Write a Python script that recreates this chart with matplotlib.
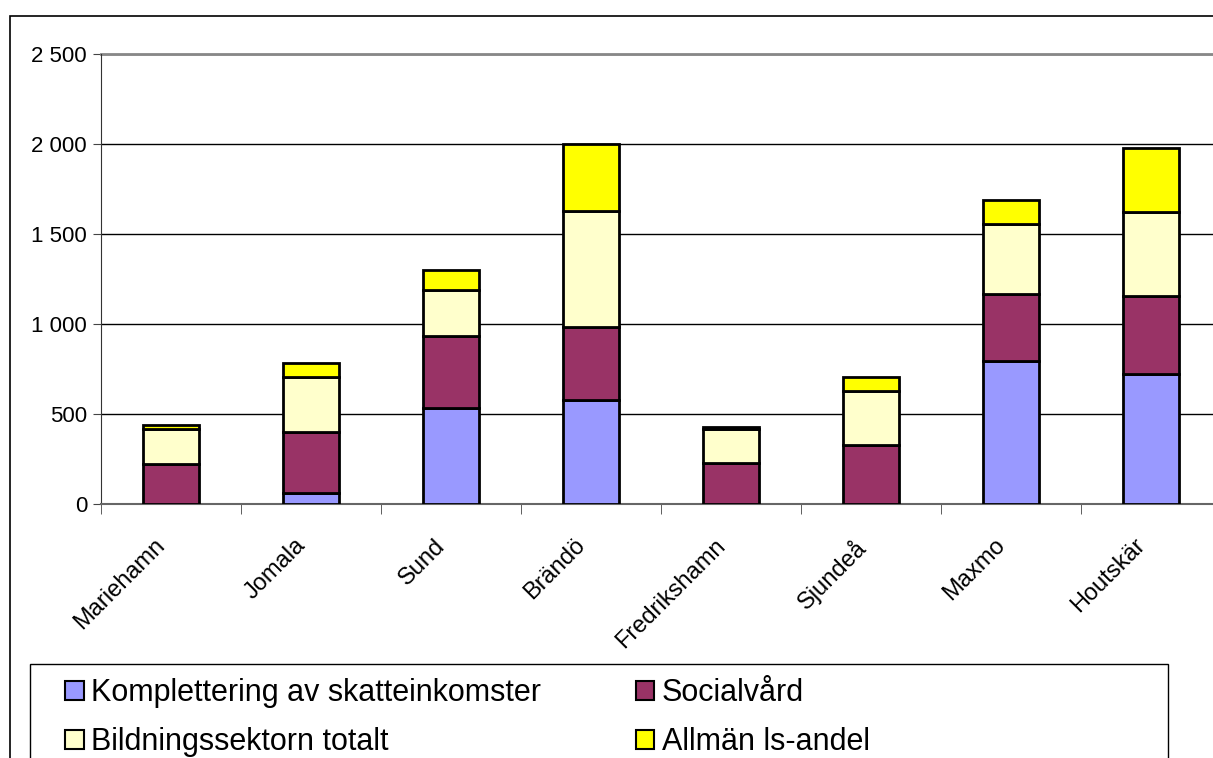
import matplotlib.pyplot as plt
import matplotlib.transforms as mtransforms
from matplotlib.patches import Rectangle, Patch
from matplotlib.ticker import FuncFormatter, FixedLocator
import numpy as np

plt.rcParams['font.family'] = ['Liberation Sans', 'DejaVu Sans']

kommuner = ["Mariehamn", "Jomala", "Sund", "Brändö", "Fredrikshamn", "Sjundeå", "Maxmo", "Houtskär"]
komplettering = [0, 60, 532, 576, 0, 0, 793, 720]
socialvard = [222, 338, 403, 409, 228, 330, 372, 434]
bildning = [195, 308, 254, 645, 189, 298, 391, 466]
allman = [22, 76, 111, 370, 11, 78, 131, 358]

serier = ["Komplettering av skatteinkomster", "Socialvård", "Bildningssektorn totalt", "Allmän ls-andel"]
farger = ["#9999FF", "#993366", "#FFFFCC", "#FFFF00"]

W, H = 1213, 758
fig = plt.figure(figsize=(W / 100, H / 100), dpi=100)

# outer chart frame (cut off at right and bottom like the original)
fig.patches.append(Rectangle((10 / W, -0.1), 1.2, 1 - 16 / H + 0.1, transform=fig.transFigure,
                             fill=False, edgecolor="black", lw=1.2))

ax = fig.add_axes([101 / W, 1 - 504 / H, 1120 / W, 450 / H])

x = np.arange(len(kommuner))
bottom = np.zeros(len(kommuner))
for vals, col in zip([komplettering, socialvard, bildning, allman], farger):
    ax.bar(x, vals, width=0.4, bottom=bottom, color=col, edgecolor="black", linewidth=2, zorder=3)
    bottom += np.array(vals)

ax.set_xlim(-0.5, len(kommuner) - 0.5)
ax.set_ylim(0, 2500)
ax.set_yticks([0, 500, 1000, 1500, 2000, 2500])
ax.yaxis.set_major_formatter(FuncFormatter(lambda v, p: f"{int(v):,}".replace(",", " ")))
ax.yaxis.grid(True, color="black", lw=1)
ax.set_axisbelow(True)

ax.set_xticks(x)
ax.set_xticklabels(kommuner, rotation=45, ha="right", rotation_mode="anchor", fontsize=17)
ax.tick_params(axis="x", which="major", length=0, pad=22)
shift = mtransforms.ScaledTranslation(-17 / 100, 0, fig.dpi_scale_trans)
for lab in ax.get_xticklabels():
    lab.set_transform(lab.get_transform() + shift)
ax.xaxis.set_minor_locator(FixedLocator(np.arange(len(kommuner) + 1) - 0.5))
ax.tick_params(axis="x", which="minor", length=7, color="#444444")
ax.tick_params(axis="y", labelsize=16, length=6, color="#444444", pad=4)

for s in ["top", "right"]:
    ax.spines[s].set_visible(False)
ax.spines["left"].set_color("#333333")
ax.spines["bottom"].set_color("#666666")
ax.spines["bottom"].set_linewidth(1.5)
ax.axhline(2500, color="#888888", lw=2, zorder=2, clip_on=False)

# legend box
fig.patches.append(Rectangle((30 / W, -0.1), 1138 / W, 1 - 664 / H + 0.1, transform=fig.transFigure,
                             fill=False, edgecolor="black", lw=1))
handles = [Patch(facecolor=c, edgecolor="black", lw=1.5) for c in farger]
order = [0, 2, 1, 3]
fig.legend([handles[i] for i in order], [serier[i] for i in order], ncol=2, frameon=False,
           loc="upper left", bbox_to_anchor=(50 / W, 1 - 663 / H), fontsize=22,
           handlelength=0.6, handleheight=0.6, handletextpad=0.25, columnspacing=3.1,
           labelspacing=0.62, borderpad=0)

fig.savefig("out.png", dpi=100)
